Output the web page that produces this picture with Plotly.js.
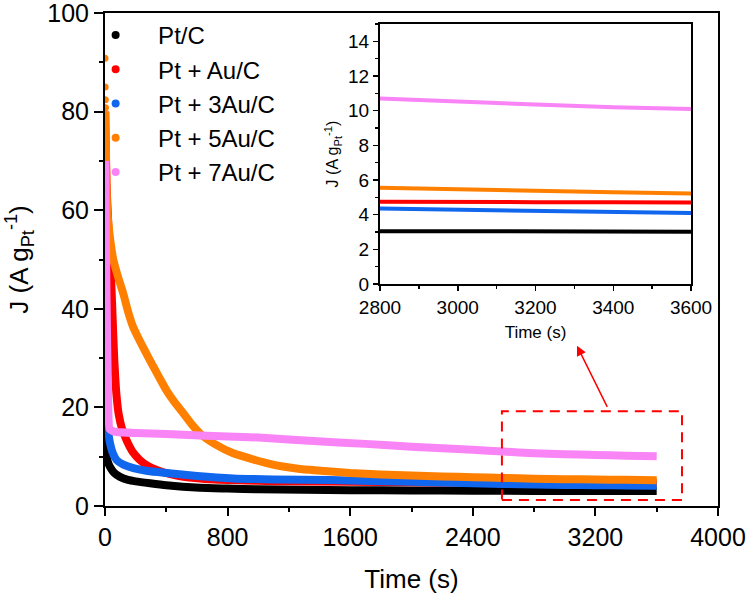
<!DOCTYPE html>
<html>
<head>
<meta charset="utf-8">
<script src="https://cdn.plot.ly/plotly-3.0.1.min.js"></script>
<style>html,body{margin:0;padding:0;background:#fff;}#chart{width:750px;height:596px;}</style>
</head>
<body>
<div id="chart"></div>
<script>
// ---- data ----
const seriesNames = ['Pt/C', 'Pt + Au/C', 'Pt + 3Au/C', 'Pt + 5Au/C', 'Pt + 7Au/C'];
const seriesColors = ['#000000', '#ff0000', '#1166ee', '#ff8000', '#f984f6'];

const time_PtC = [0, 3, 6, 11, 20, 33, 60, 98, 150, 200, 294, 400, 620, 800, 1000, 1300, 1600, 2000, 2400, 2800, 3000, 3200, 3400, 3600];
const J_PtC    = [41, 28, 16, 10, 8.8, 7.9, 6.7, 5.9, 5.3, 5.0, 4.6, 4.2, 3.7, 3.55, 3.4, 3.3, 3.2, 3.15, 3.1, 3.05, 3.05, 3.04, 3.03, 3.02];

const time_Au1 = [0, 10, 25, 40, 50, 60, 75, 90, 110, 141, 180, 228, 280, 337, 420, 511, 650, 837, 1000, 1200, 1600, 2000, 2400, 2800, 3000, 3200, 3400, 3600];
const J_Au1    = [80, 65, 55, 46, 38, 30, 22.5, 18.5, 15.8, 13.3, 11.0, 9.3, 8.1, 7.3, 6.5, 5.9, 5.5, 5.25, 5.1, 5.0, 4.9, 4.8, 4.75, 4.75, 4.72, 4.72, 4.72, 4.7];

const time_Au3 = [0, 5, 11, 20, 33, 50, 76, 120, 185, 280, 402, 600, 837, 1100, 1468, 2000, 2400, 2800, 3000, 3200, 3400, 3600];
const J_Au3    = [29.5, 24, 19.4, 15.5, 12.7, 10.8, 9.3, 8.4, 7.7, 7.1, 6.7, 6.1, 5.6, 5.4, 5.25, 4.9, 4.6, 4.35, 4.28, 4.22, 4.16, 4.1];

const time_Au5_start = [0, 1, 2, 3];
const J_Au5_start    = [90.8, 85, 82.4, 80.8];
const time_Au5 = [3, 8, 15, 30, 54, 85, 120, 150, 185, 240, 294, 350, 402, 455, 511, 565, 620, 720, 837, 950, 1055, 1160, 1272, 1430, 1600, 1800, 2000, 2200, 2400, 2600, 2800, 3000, 3200, 3400, 3600];
const J_Au5    = [80, 68, 60, 55, 50, 46.5, 43, 39.5, 36.2, 32.7, 29.5, 26.3, 23.4, 21, 18.8, 16.6, 14.7, 12.5, 10.7, 9.6, 8.7, 8.0, 7.5, 7.1, 6.7, 6.4, 6.2, 6.0, 5.85, 5.7, 5.55, 5.45, 5.38, 5.3, 5.22];

const time_Au7 = [0, 10, 20, 30, 50, 76, 200, 400, 620, 800, 1000, 1200, 1468, 1700, 2000, 2200, 2400, 2600, 2800, 3000, 3200, 3400, 3600];
const J_Au7    = [70, 42, 22, 15.6, 15.2, 15.0, 14.8, 14.6, 14.3, 14.1, 13.9, 13.5, 13.0, 12.6, 12.0, 11.7, 11.4, 11.05, 10.7, 10.5, 10.35, 10.2, 10.1];

const seriesTime = [time_PtC, time_Au1, time_Au3, time_Au5, time_Au7];
const seriesJ    = [J_PtC, J_Au1, J_Au3, J_Au5, J_Au7];

const insetStart = 2800;
const mainTicks = [0, 800, 1600, 2400, 3200, 4000];
const insetTicks = [2800, 3000, 3200, 3400, 3600];
const zoomBox = {t0: 2590, t1: 3765, j0: 1.2, j1: 19.2};
const arrowHead = {t: 3080, j: 32.5};
const arrowTail = {t: 3282, j: 19.8};

// ---- traces ----
const traces = [];
for (let i = 0; i < seriesNames.length; i++) {
  traces.push({
    x: seriesTime[i], y: seriesJ[i], type: 'scatter', mode: 'lines',
    line: {color: seriesColors[i], width: 8, shape: 'spline', smoothing: 0.5}, showlegend: false,
    xaxis: 'x', yaxis: 'y', hoverinfo: 'skip'
  });
  if (i === 3) {
    traces.push({
      x: time_Au5_start, y: J_Au5_start, type: 'scatter', mode: 'markers',
      marker: {color: seriesColors[3], size: 7}, showlegend: false,
      xaxis: 'x', yaxis: 'y', hoverinfo: 'skip'
    });
  }
}
// inset traces (same data, zoomed window)
for (let i = 0; i < seriesNames.length; i++) {
  const xs = [], ys = [];
  seriesTime[i].forEach((t, k) => { if (t >= insetStart) { xs.push(t); ys.push(seriesJ[i][k]); } });
  traces.push({
    x: xs, y: ys, type: 'scatter', mode: 'lines',
    line: {color: seriesColors[i], width: 4}, showlegend: false,
    xaxis: 'x2', yaxis: 'y2', hoverinfo: 'skip'
  });
}
// legend entries
for (let i = 0; i < seriesNames.length; i++) {
  traces.push({
    x: [null], y: [null], type: 'scatter', mode: 'markers', name: seriesNames[i],
    legendgroup: 'g' + i,
    marker: {color: seriesColors[i], size: 8}, xaxis: 'x', yaxis: 'y'
  });
}

const axisCommon = {
  showline: true, linecolor: 'black', linewidth: 2, mirror: true,
  showgrid: false, zeroline: false, ticks: 'outside', tickcolor: 'black',
  ticklabeloverflow: 'allow'
};

const layout = {
  width: 750, height: 596,
  margin: {l: 105, r: 32, t: 13, b: 90},
  paper_bgcolor: 'white', plot_bgcolor: 'white',
  font: {family: 'Arial, "Liberation Sans", sans-serif', size: 25, color: 'black'},
  showlegend: true,
  legend: {
    x: -0.052, y: 1.0, xanchor: 'left', yanchor: 'top', itemwidth: 75,
    bgcolor: 'rgba(0,0,0,0)', font: {size: 24, color: 'black'},
    traceorder: 'normal', tracegroupgap: 3
  },
  xaxis: Object.assign({}, axisCommon, {
    range: [0, 4000], tickvals: mainTicks, ticklen: 8, tickwidth: 2,
    minor: {dtick: 400, tick0: 0, ticks: 'outside', ticklen: 4, tickwidth: 2, tickcolor: 'black', showgrid: false},
    tickfont: {size: 25}, automargin: false,
    title: {text: 'Time (s)', font: {size: 26}, standoff: 20}
  }),
  yaxis: Object.assign({}, axisCommon, {
    range: [0, 100], dtick: 20, tick0: 0, ticklen: 9, tickwidth: 2,
    minor: {dtick: 10, tick0: 0, ticks: 'outside', ticklen: 4, tickwidth: 2, tickcolor: 'black', showgrid: false},
    tickfont: {size: 25}, automargin: false,
    title: {text: 'J (A g<sub>Pt</sub><sup>-1</sup>)', font: {size: 26}, standoff: 11}
  }),
  xaxis2: Object.assign({}, axisCommon, {
    domain: [0.4486, 0.956], anchor: 'y2', range: [2800, 3600], tickvals: insetTicks,
    ticklen: 5, tickwidth: 1.5, linewidth: 2,
    minor: {dtick: 100, tick0: 2800, ticks: 'outside', ticklen: 3, tickwidth: 1.5, tickcolor: 'black', showgrid: false},
    tickfont: {size: 19}, automargin: false,
    title: {text: 'Time (s)', font: {size: 17}, standoff: 9}
  }),
  yaxis2: Object.assign({}, axisCommon, {
    domain: [0.4503, 0.9777], anchor: 'x2', range: [0, 15], dtick: 2, tick0: 0,
    ticklen: 5, tickwidth: 1.5, linewidth: 2,
    minor: {dtick: 1, tick0: 0, ticks: 'outside', ticklen: 3, tickwidth: 1.5, tickcolor: 'black', showgrid: false},
    tickfont: {size: 19}, automargin: false,
    title: {text: 'J (A g<sub>Pt</sub><sup>-1</sup>)', font: {size: 16}, standoff: 5}
  }),
  shapes: [{
    type: 'rect', xref: 'x', yref: 'y',
    x0: zoomBox.t0, x1: zoomBox.t1, y0: zoomBox.j0, y1: zoomBox.j1,
    line: {color: '#ff0000', width: 2, dash: '10px,7px'}, fillcolor: 'rgba(0,0,0,0)'
  }],
  annotations: [{
    x: arrowHead.t, y: arrowHead.j, xref: 'x', yref: 'y',
    ax: arrowTail.t, ay: arrowTail.j, axref: 'x', ayref: 'y',
    text: '', showarrow: true, arrowhead: 2, arrowsize: 1.3, arrowwidth: 1.5, arrowcolor: '#ff0000'
  }]
};

Plotly.newPlot('chart', traces, layout, {staticPlot: true, displayModeBar: false});
</script>
</body>
</html>
